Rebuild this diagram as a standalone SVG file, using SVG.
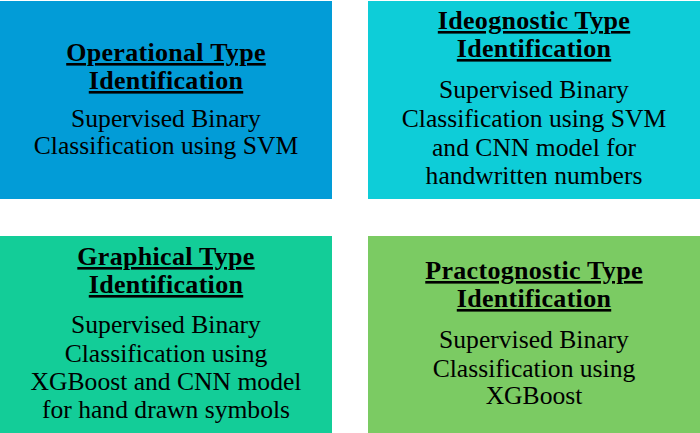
<svg xmlns="http://www.w3.org/2000/svg" width="700" height="433" viewBox="0 0 700 433">
  <style>
    text { font-family: "Liberation Serif", "DejaVu Serif", serif; fill: #000; text-anchor: middle; }
    .title { font-size: 26px; font-weight: bold; text-decoration: underline; letter-spacing: 0.3px; }
    .body { font-size: 25.6px; }
  </style>
  <rect width="700" height="433" fill="#ffffff"/>
  <g id="operational">
    <rect x="0" y="1" width="332" height="198" fill="#029cd7"/>
    <text class="title" x="166" y="61">Operational Type</text>
    <text class="title" x="166" y="89">Identification</text>
    <text class="body" x="166" y="127">Supervised Binary</text>
    <text class="body" x="166" y="154">Classification using SVM</text>
  </g>
  <g id="ideognostic">
    <rect x="368" y="1" width="332" height="198" fill="#0ecdd8"/>
    <text class="title" x="534" y="29">Ideognostic Type</text>
    <text class="title" x="534" y="57">Identification</text>
    <text class="body" x="534" y="98">Supervised Binary</text>
    <text class="body" x="534" y="127">Classification using SVM</text>
    <text class="body" x="534" y="156">and CNN model for</text>
    <text class="body" x="534" y="184">handwritten numbers</text>
  </g>
  <g id="graphical">
    <rect x="0" y="236" width="332" height="197" fill="#13cd98"/>
    <text class="title" x="166" y="265">Graphical Type</text>
    <text class="title" x="166" y="293">Identification</text>
    <text class="body" x="166" y="333">Supervised Binary</text>
    <text class="body" x="166" y="362">Classification using</text>
    <text class="body" x="166" y="390">XGBoost and CNN model</text>
    <text class="body" x="166" y="418">for hand drawn symbols</text>
  </g>
  <g id="practognostic">
    <rect x="368" y="236" width="332" height="197" fill="#7bcb63"/>
    <text class="title" x="534" y="279">Practognostic Type</text>
    <text class="title" x="534" y="307">Identification</text>
    <text class="body" x="534" y="348">Supervised Binary</text>
    <text class="body" x="534" y="377">Classification using</text>
    <text class="body" x="534" y="404">XGBoost</text>
  </g>
  <g id="connectors"/>
</svg>
